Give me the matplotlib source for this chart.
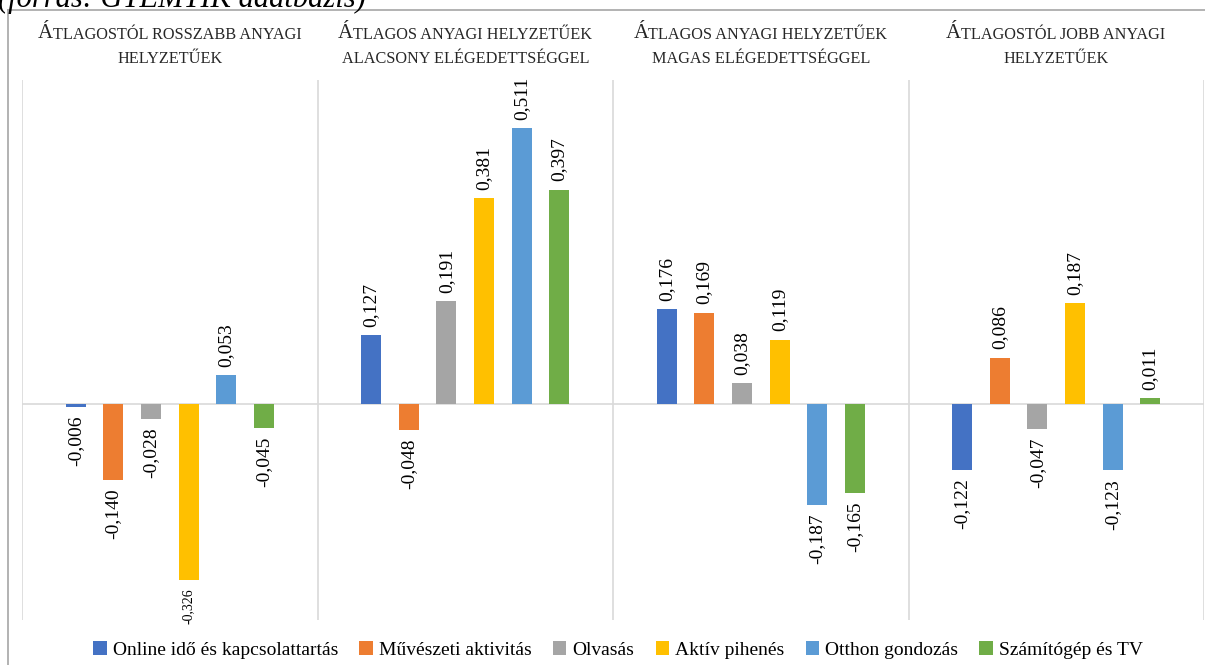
import matplotlib
matplotlib.use('Agg')
from matplotlib import pyplot as plt
from matplotlib.lines import Line2D
import numpy as np

plt.rcParams['font.family'] = 'Liberation Serif'

# Csoportok (panel-címek: első sor, második sor)
title_first = ['ÁTLAGOSTÓL ROSSZABB ANYAGI', 'ÁTLAGOS ANYAGI HELYZETŰEK',
               'ÁTLAGOS ANYAGI HELYZETŰEK', 'ÁTLAGOSTÓL JOBB ANYAGI']
title_second = ['HELYZETŰEK', 'ALACSONY ELÉGEDETTSÉGGEL',
                'MAGAS ELÉGEDETTSÉGGEL', 'HELYZETŰEK']

series_names = ['Online idő és kapcsolattartás', 'Művészeti aktivitás', 'Olvasás',
                'Aktív pihenés', 'Otthon gondozás', 'Számítógép és TV']
online = [-0.006, 0.127, 0.176, -0.122]
muveszeti = [-0.140, -0.048, 0.169, 0.086]
olvasas = [-0.028, 0.191, 0.038, -0.047]
aktiv = [-0.326, 0.381, 0.119, 0.187]
otthon = [0.053, 0.511, -0.187, -0.123]
szamitogep = [-0.045, 0.397, -0.165, 0.011]

colors = ['#4472C4', '#ED7D31', '#A5A5A5', '#FFC000', '#5B9BD5', '#70AD47']

W, H = 1205, 665


def draw_chart():
    fig = plt.figure(figsize=(W / 100, H / 100), dpi=100)
    ax = fig.add_axes([22 / W, 1 - 620 / H, (1204 - 22) / W, 540 / H])

    xs = np.arange(len(title_first))
    slot = 37.7 / 296
    width = 20 / 296
    all_series = [online, muveszeti, olvasas, aktiv, otthon, szamitogep]
    for i, (vals, name, c) in enumerate(zip(all_series, series_names, colors)):
        pos = xs + (i - 2.5) * slot
        ax.bar(pos, vals, width, color=c, label=name, zorder=3)
        for x, v in zip(pos, vals):
            txt = f'{v:.3f}'.replace('.', ',')
            size = 10 if v < -0.3 else 14
            ax.annotate(txt, (x, v), xytext=(0, 6 if v >= 0 else -6),
                        textcoords='offset points', rotation=90,
                        ha='center', va='bottom' if v >= 0 else 'top',
                        fontsize=size, color='black', zorder=4)

    ax.set_xlim(-0.5, len(xs) - 0.5)
    ax.set_ylim(-0.4, 0.6)
    for b in np.arange(-0.5, len(xs), 1.0):
        ax.axvline(b, color='#d9d9d9', lw=1.2, zorder=1)
    ax.axhline(0, color='#d9d9d9', lw=1.2, zorder=2)
    ax.set_xticks([])
    ax.set_yticks([])
    for s in ax.spines.values():
        s.set_visible(False)

    # panel-címek kiskapitális utánzással
    for i in range(len(xs)):
        cx = (22 + 295.5 * i + 148) / W
        rest = fig.text(cx + 7 / W, 1 - 39 / H, title_first[i][1:], ha='center',
                        va='baseline', fontsize=11.7, color='#262626')
        ax.annotate(title_first[i][0], xy=(0, 0), xycoords=rest, ha='right',
                    va='bottom', fontsize=15, color='#262626',
                    annotation_clip=False)
        fig.text(cx, 1 - 63 / H, title_second[i], ha='center', va='baseline',
                 fontsize=11.7, color='#262626')

    # keret
    fig.add_artist(Line2D([8 / W, 1], [1 - 10 / H, 1 - 10 / H], color='#a6a6a6', lw=1.2))
    fig.add_artist(Line2D([8 / W, 8 / W], [0, 1 - 10 / H], color='#a6a6a6', lw=1.2))

    # levágott forrás-szöveg a tetején
    fig.text(-2 / W, 1 - 7 / H, '(forrás: GYEMTIK adatbázis)', style='italic',
             fontsize=22, va='baseline', ha='left')

    fig.legend(loc='center', bbox_to_anchor=(618 / W, 1 - 650 / H), ncol=6,
               frameon=False, fontsize=14, handlelength=0.7, handleheight=0.7,
               handletextpad=0.3, columnspacing=1.1)

    fig.savefig('out.png', dpi=100)


def main():
    draw_chart()


if __name__ == '__main__':
    main()
